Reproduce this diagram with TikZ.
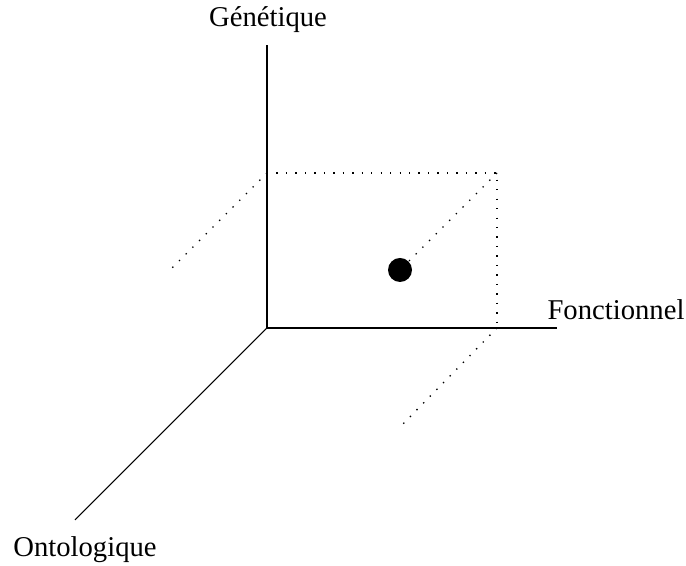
\documentclass[tikz,border=0pt]{standalone}
\usepackage{fontspec}
\setmainfont{Liberation Serif}
\usetikzlibrary{positioning}
\tikzset{
  axis/.style={draw=black,line width=0.8pt},
  guide/.style={draw=black,line width=1pt,dash pattern=on 1pt off 6.1pt},
  axislabel/.style={text=black,font=\fontsize{21.5}{25}\selectfont,inner sep=0pt},
  point/.style={circle,fill=black,minimum size=18pt,inner sep=0pt}
}
\begin{document}
\begin{tikzpicture}[x=0.75pt,y=0.75pt]
  \path[use as bounding box] (0,0) rectangle (686,566);

  % Axes.
  \coordinate (origin) at (267,238);
  \coordinate (gen) at (267,521);
  \coordinate (fon) at (557,238);
  \coordinate (ont) at (75,46);
  \draw[axis] (origin) -- (gen);
  \draw[axis] (origin) -- (fon);
  \draw[axis] (origin) -- (ont);

  \node[axislabel] (genlabel) at (268,546) {Génétique};
  \node[axislabel] (fonlabel) at (616,256) {Fonctionnel};
  \node[axislabel] (ontlabel) at (85,16) {Ontologique};

  % Projections of the point.
  \coordinate (gentop) at (267,393);
  \coordinate (corner) at (497,393);
  \coordinate (fonfoot) at (497,238);
  \coordinate (leftend) at (172,298);
  \coordinate (lowend) at (402,141);
  \node[point] (pt) at (400,296) {};

  \draw[guide] (gentop) -- (corner) -- (fonfoot);
  \draw[guide] (gentop) -- (leftend);
  \draw[guide] (corner) -- (pt);
  \draw[guide] (fonfoot) -- (lowend);
\end{tikzpicture}
\end{document}
